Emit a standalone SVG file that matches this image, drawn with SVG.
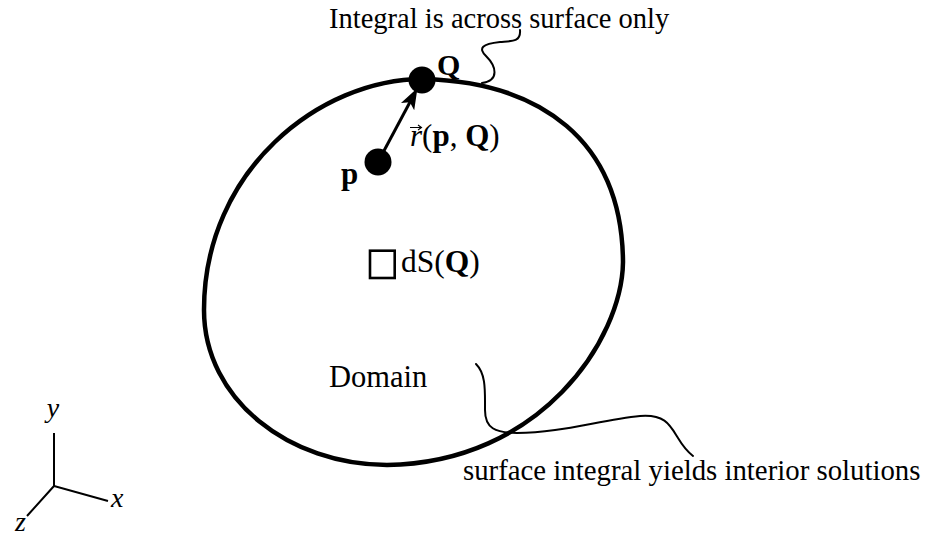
<svg xmlns="http://www.w3.org/2000/svg" width="929" height="538" viewBox="0 0 929 538">
<style>
text{font-family:"Liberation Serif","Times New Roman",serif;fill:#000}
.lbl{font-size:28.5px}
.b{font-weight:bold}
.it{font-style:italic}
.thin{fill:none;stroke:#000;stroke-width:2;stroke-linecap:round}
.ax{fill:none;stroke:#000;stroke-width:2}
</style>
<defs>
<marker id="ah" markerUnits="userSpaceOnUse" markerWidth="24" markerHeight="18" viewBox="0 -9 24 18" refX="10" refY="0" orient="auto">
<path d="M21,0 L0,-7.5 L5,0 L0,7.5 Z" fill="#000"/>
</marker>
</defs>
<rect width="929" height="538" fill="#fff"/>

<g id="domain">
<path d="M423,79 C540,82 622,140 623,262 C622,340 540,463 387,465 C290,465 204,400 204,310 C204,170 320,79 423,79 Z" fill="none" stroke="#000" stroke-width="4.5"/>
<text x="329" y="387" style="font-size:30.5px">Domain</text>
</g>

<g id="connectors">
<line x1="378" y1="162" x2="412.3" y2="97.8" stroke="#000" stroke-width="3" marker-end="url(#ah)"/>
<path class="thin" d="M520,30 C521,42 512,41 500,42 C482,44 478,48 486,56 C496,66 500,80 482,83"/>
<path class="thin" d="M476,364 C486,374 485,390 485,410 C485,428 495,433 517,433 C560,433 600,420 640,416 C665,414 670,425 678,438 C684,448 688,452 693,456"/>
</g>

<g id="point-Q">
<circle cx="422" cy="80" r="13.5" fill="#000"/>
<text class="b" x="437" y="75" style="font-size:30px">Q</text>
</g>

<g id="point-p">
<circle cx="378" cy="162" r="13.5" fill="#000"/>
<text class="b" x="341" y="184" style="font-size:31px">p</text>
</g>

<g id="r-label">
<text x="410" y="146" style="font-size:31px"><tspan class="it">r</tspan>(<tspan class="b">p</tspan>, <tspan class="b">Q</tspan>)</text>
<path d="M410,127.5 L421,127.5 M418,125 L421.5,127.5 L418,130" fill="none" stroke="#000" stroke-width="1.1"/>
</g>

<g id="dS">
<rect x="370" y="250.7" width="24.7" height="27.3" fill="none" stroke="#000" stroke-width="2.6"/>
<text x="401" y="272" style="font-size:31.5px">dS(<tspan class="b">Q</tspan>)</text>
</g>

<g id="label-top">
<text class="lbl" x="329" y="28">Integral is across surface only</text>
</g>

<g id="label-bottom">
<text x="463" y="480" style="font-size:28.8px">surface integral yields interior solutions</text>
</g>

<g id="axes">
<path class="ax" d="M54,433 L54,486 L108,501 M54,486 L27,516"/>
<text class="it" x="53" y="417" text-anchor="middle" style="font-size:28px">y</text>
<text class="it" x="111" y="507" style="font-size:28px">x</text>
<text class="it" x="15" y="531" style="font-size:28px">z</text>
</g>
</svg>
